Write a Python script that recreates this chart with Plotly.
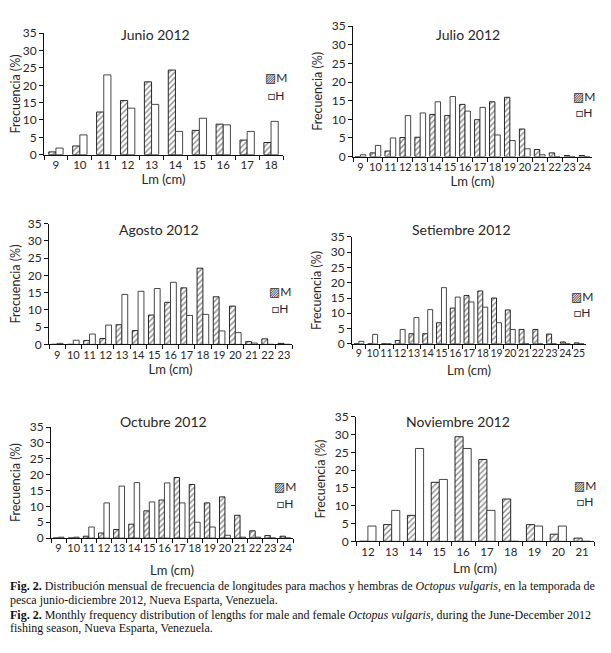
import plotly.graph_objects as go

# ---------------- data ----------------
titles = ["Junio 2012", "Julio 2012", "Agosto 2012", "Setiembre 2012", "Octubre 2012", "Noviembre 2012"]

jun_lm = [9, 10, 11, 12, 13, 14, 15, 16, 17, 18]
jun_m = [0.8, 2.5, 12.3, 15.6, 21.0, 24.4, 7.0, 8.8, 4.2, 3.5]
jun_h = [1.9, 5.7, 23.0, 13.4, 14.5, 6.7, 10.5, 8.6, 6.7, 9.6]

jul_lm = [9, 10, 11, 12, 13, 14, 15, 16, 17, 18, 19, 20, 21, 22, 23, 24]
jul_m = [0, 1.0, 1.5, 5.1, 5.2, 11.3, 11.0, 14.0, 9.9, 14.7, 15.9, 7.4, 1.9, 1.0, 0.3, 0.3]
jul_h = [0.5, 3.0, 5.0, 11.0, 11.7, 14.7, 16.1, 12.2, 13.2, 5.8, 4.3, 2.1, 0.5, 0, 0, 0]

ago_lm = [9, 10, 11, 12, 13, 14, 15, 16, 17, 18, 19, 20, 21, 22, 23]
ago_m = [0, 0, 1.1, 1.7, 5.7, 4.0, 8.5, 12.2, 16.4, 22.1, 13.8, 11.1, 0.8, 1.6, 0.3]
ago_h = [0.3, 1.2, 3.0, 5.6, 14.5, 15.4, 16.2, 18.0, 8.4, 8.7, 3.9, 3.4, 0.4, 0, 0]

set_lm = [9, 10, 11, 12, 13, 14, 15, 16, 17, 18, 19, 20, 21, 22, 23, 24, 25]
set_m = [0, 0, 0, 1.1, 3.3, 3.3, 6.9, 11.7, 15.8, 17.3, 15.0, 11.1, 4.7, 4.7, 3.2, 0.6, 0.3]
set_h = [0.8, 3.1, 0, 4.7, 8.6, 11.2, 18.4, 15.3, 13.7, 12.0, 6.9, 4.7, 0, 0, 0, 0, 0]

oct_lm = [9, 10, 11, 12, 13, 14, 15, 16, 17, 18, 19, 20, 21, 22, 23, 24]
oct_m = [0, 0, 0.6, 1.6, 2.7, 4.4, 8.6, 12.0, 19.1, 16.9, 11.1, 13.0, 7.2, 2.3, 0.8, 0.6]
oct_h = [0.3, 0.3, 3.5, 11.1, 16.4, 17.5, 11.4, 17.4, 11.1, 5.0, 3.5, 0.9, 0.3, 0.3, 0, 0]

nov_lm = [12, 13, 14, 15, 16, 17, 18, 19, 20, 21]
nov_m = [0, 4.7, 7.3, 16.6, 29.4, 23.0, 11.9, 4.7, 2.0, 0.9]
nov_h = [4.3, 8.7, 26.1, 17.4, 26.1, 8.7, 0, 4.3, 4.3, 0]

y_ticks = [0, 5, 10, 15, 20, 25, 30, 35]
series_names = ["M", "H"]

panels = [
    (jun_lm, jun_m, jun_h),
    (jul_lm, jul_m, jul_h),
    (ago_lm, ago_m, ago_h),
    (set_lm, set_m, set_h),
    (oct_lm, oct_m, oct_h),
    (nov_lm, nov_m, nov_h),
]

# ---------------- layout (pixel geometry of the reference page) ----------------
PAGE_OFF = 8            # default body margin of the html page (all four sides)
W, H = 611 - 2 * PAGE_OFF, 653 - 2 * PAGE_OFF
boxes = [
    (44, 283, 25.7, 150),
    (353, 592, 18.3, 152),
    (49, 292, 220.7, 344.3),
    (352, 586, 234.3, 343.7),
    (51, 293, 429, 542.7),
    (356, 594, 418.5, 546),
]
bar_w = [0.30, 0.36, 0.36, 0.36, 0.36, 0.34]
x_standoff = [4, 4, 5, 7, 12, 6]
x_tickfs = [11.5, 11, 11, 10.5, 11, 11.5]
title_pos = [(155, 27), (468, 27), (159, 227), (461, 227), (163, 423), (458, 423)]
legend_pos = [(276, 71, 89), (584, 90, 107), (280, 290, 308), (582, 295, 312), (285, 490, 507), (585, 489, 505)]

FONT = "Lato, Open Sans, DejaVu Sans, sans-serif"
TXT = "#2a2627"

def px(x):
    return (x - PAGE_OFF) / W

def py(y):
    return 1 - (y - PAGE_OFF) / H

fig = go.Figure()
layout = dict(
    width=W, height=H,
    margin=dict(l=0, r=0, t=0, b=0),
    paper_bgcolor="white", plot_bgcolor="white",
    barmode="overlay",
    showlegend=False,
    font=dict(family=FONT, size=11, color=TXT),
)
annotations = []

for i, ((lm, m, h), (x0, x1, yt, yb)) in enumerate(zip(panels, boxes)):
    n = i + 1
    xa = "x" if n == 1 else f"x{n}"
    ya = "y" if n == 1 else f"y{n}"
    cats = [str(v) for v in lm]
    w = bar_w[i]
    fig.add_trace(go.Bar(
        x=cats, y=m, name=series_names[0], xaxis=xa, yaxis=ya,
        width=w, offset=-w,
        marker=dict(color="white", line=dict(color="#111", width=0.9),
                    pattern=dict(shape="/", fgcolor="#111", bgcolor="white", size=4, solidity=0.35)),
    ))
    fig.add_trace(go.Bar(
        x=cats, y=h, name=series_names[1], xaxis=xa, yaxis=ya,
        width=w, offset=0,
        marker=dict(color="white", line=dict(color="#333", width=0.9)),
    ))
    layout["xaxis" if n == 1 else f"xaxis{n}"] = dict(
        domain=[px(x0), px(x1)], anchor=ya, type="category", dtick=1,
        showline=True, linecolor="#111", linewidth=1,
        ticks="outside", tickson="boundaries", ticklen=4, tickcolor="#111",
        tickangle=0, showgrid=False, zeroline=False, tickfont=dict(size=x_tickfs[i]),
        title=dict(text="Lm (cm)", font=dict(size=13), standoff=x_standoff[i]),
        fixedrange=True,
    )
    layout["yaxis" if n == 1 else f"yaxis{n}"] = dict(
        domain=[py(yb), py(yt)], anchor=xa, range=[0, 35],
        tickvals=y_ticks, showline=True, linecolor="#111", linewidth=1,
        ticks="outside", ticklen=4, tickcolor="#111",
        showgrid=False, zeroline=False, tickfont=dict(size=12),
        title=dict(text="Frecuencia (%)", font=dict(size=12.5), standoff=6),
        fixedrange=True,
    )
    tx, ty = title_pos[i]
    annotations.append(dict(text=titles[i], x=px(tx), y=py(ty), xref="paper", yref="paper",
                            showarrow=False, font=dict(size=14, color=TXT), xanchor="center", yanchor="middle"))
    lx, lym, lyh = legend_pos[i]
    for name, sym, yy in ((series_names[0], "▨", lym), (series_names[1], "□", lyh)):
        annotations.append(dict(text=sym + name, x=px(lx), y=py(yy), xref="paper", yref="paper",
                                showarrow=False, font=dict(size=12, color=TXT), xanchor="center",
                                yanchor="middle", borderpad=0))

caption = [
    "<b>Fig. 2.</b> Distribución mensual de frecuencia de longitudes para machos y hembras de <i>Octopus vulgaris</i>, en la temporada de",
    "pesca junio-diciembre 2012, Nueva Esparta, Venezuela.",
    "<b>Fig. 2.</b> Monthly frequency distribution of lengths for male and female <i>Octopus vulgaris</i>, during the June-December 2012",
    "fishing season, Nueva Esparta, Venezuela.",
]
cap_y = [592, 606, 621, 635]
for t, yy in zip(caption, cap_y):
    annotations.append(dict(text=t, x=0, y=py(yy), xref="paper", yref="paper", showarrow=False,
                            xanchor="left", yanchor="middle",
                            font=dict(family="Liberation Serif, Times New Roman, serif", size=12, color="#111")))

layout["annotations"] = annotations
fig.update_layout(**layout)
fig.write_html("out.html")
